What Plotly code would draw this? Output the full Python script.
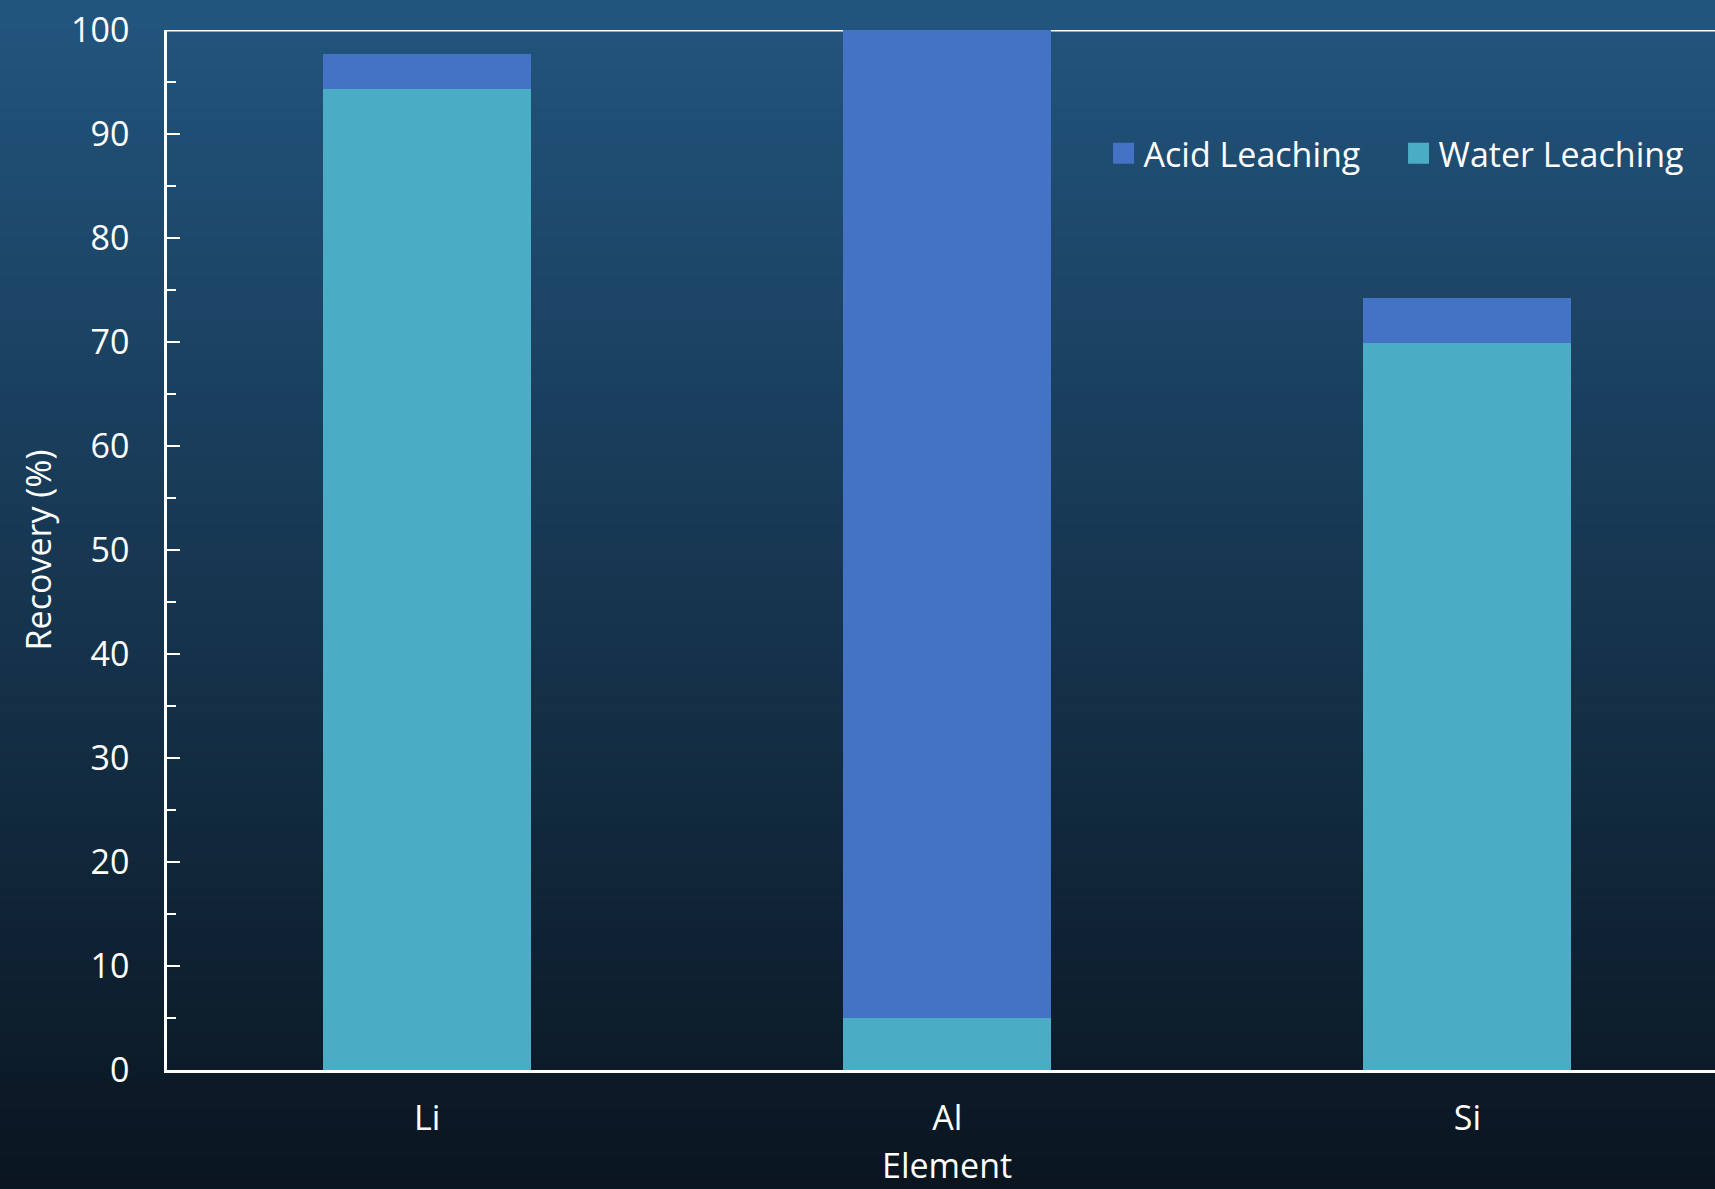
import plotly.graph_objects as go

# Recovery (%) by element, split into the two leaching steps
elements = ["Li", "Al", "Si"]
water_leaching = [94.3, 5.0, 69.9]
acid_leaching = [3.4, 95.0, 4.3]
series_names = ["Acid Leaching", "Water Leaching"]
x_title = "Element"
y_title = "Recovery (%)"

ACID_COLOR = "#4472C4"
WATER_COLOR = "#4BACC6"
FONT = "Open Sans"
FS = 34

W, H = 1715, 1189
M_L, M_R, M_T, M_B = 167, 0, 30, 119
plot_w = W - M_L - M_R
plot_h = H - M_T - M_B

fig = go.Figure()

# stacked bars: water leaching at the bottom, acid leaching on top
fig.add_trace(go.Bar(x=elements, y=water_leaching, name=series_names[1],
                     marker=dict(color=WATER_COLOR, line=dict(width=0)),
                     width=0.4, showlegend=False))
fig.add_trace(go.Bar(x=elements, y=acid_leaching, name=series_names[0],
                     marker=dict(color=ACID_COLOR, line=dict(width=0)),
                     width=0.4, showlegend=False))

# legend entries with larger square swatches
for name, col in [(series_names[0], ACID_COLOR), (series_names[1], WATER_COLOR)]:
    fig.add_trace(go.Scatter(x=[None], y=[None], mode="markers", name=name,
                             marker=dict(symbol="square", size=16, color=col,
                                         line=dict(color=col, width=5))))

# vertical background gradient (dark blue at the top fading to near black)
top_rgb = (34, 85, 126)
bot_rgb = (10, 21, 32)
n_strips = 120
y_lo = -M_B / plot_h
y_hi = 1 + M_T / plot_h
shapes = []
for i in range(n_strips):
    t = i / (n_strips - 1)
    r = round(top_rgb[0] + (bot_rgb[0] - top_rgb[0]) * t)
    g = round(top_rgb[1] + (bot_rgb[1] - top_rgb[1]) * t)
    b = round(top_rgb[2] + (bot_rgb[2] - top_rgb[2]) * t)
    y1 = y_hi - (y_hi - y_lo) * i / n_strips
    y0 = y_hi - (y_hi - y_lo) * (i + 1) / n_strips
    shapes.append(dict(type="rect", xref="paper", yref="paper",
                       x0=-M_L / plot_w - 0.01, x1=1.01, y0=y0 - 0.001, y1=y1 + 0.001,
                       fillcolor=f"rgb({r},{g},{b})", line=dict(width=0),
                       layer="below"))
# top frame line, drawn beneath the bars
shapes.append(dict(type="line", xref="paper", yref="y", x0=0, x1=1, y0=100, y1=100,
                   line=dict(color="white", width=3), layer="below"))

fig.update_layout(
    width=W, height=H,
    margin=dict(l=M_L, r=M_R, t=M_T, b=M_B, autoexpand=False),
    paper_bgcolor="rgb(10,21,32)",
    plot_bgcolor="rgba(0,0,0,0)",
    barmode="stack",
    shapes=shapes,
    font=dict(family=FONT, color="white", size=FS),
    legend=dict(orientation="h", x=0.605, y=0.881, xanchor="left", yanchor="middle",
                bgcolor="rgba(0,0,0,0)", font=dict(size=FS, color="white"),
                traceorder="normal", itemwidth=30, entrywidth=250),
    # x-axis title centred under the middle category
    annotations=[dict(text=x_title, x=elements[1], xref="x", y=-95 / plot_h,
                      yref="paper", xanchor="center", yanchor="middle",
                      showarrow=False, font=dict(size=FS, color="white"))],
    xaxis=dict(
        range=[-0.5, 2.476],
        showgrid=False, zeroline=False,
        showline=True, linecolor="white", linewidth=3,
        ticks="", tickfont=dict(size=FS, color="white"),
        ticklabelstandoff=16,
        fixedrange=True,
    ),
    yaxis=dict(
        range=[0, 100],
        showgrid=False, zeroline=False,
        showline=True, linecolor="white", linewidth=2.5,
        tickmode="linear", tick0=0, dtick=10,
        ticks="inside", ticklen=13, tickwidth=2, tickcolor="white",
        minor=dict(ticks="inside", ticklen=9, tickwidth=2, tickcolor="white", dtick=5),
        tickfont=dict(size=FS, color="white"),
        ticklabelstandoff=28,
        title=dict(text=y_title, font=dict(size=FS, color="white"), standoff=10),
        fixedrange=True,
    ),
)

fig.write_html("out.html")
